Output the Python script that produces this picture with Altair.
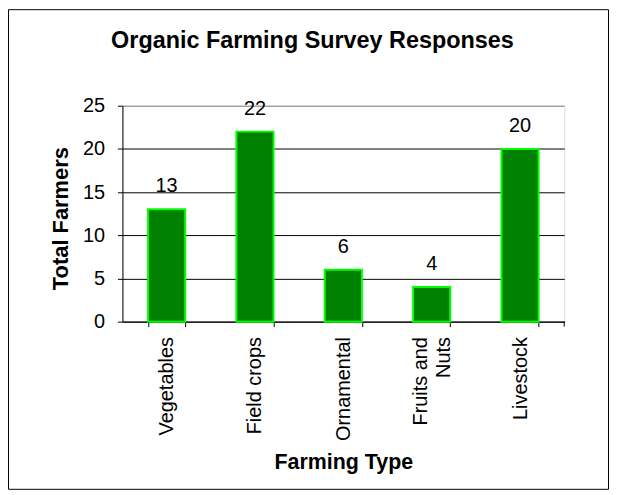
import altair as alt
import pandas as pd

categories = ["Vegetables", "Field crops", "Ornamental", "Fruits and|Nuts", "Livestock"]
values = [13, 22, 6, 4, 20]
y_ticks = [0, 5, 10, 15, 20, 25]

df = pd.DataFrame({"type": categories, "count": values})
FONT = "Liberation Sans"

x_enc = alt.X(
    "type:N",
    sort=categories,
    scale=alt.Scale(paddingInner=0.58, paddingOuter=0.29),
    axis=alt.Axis(
        title="Farming Type",
        labelAngle=-90,
        labelExpr="split(datum.label, '|')",
        labelFont=FONT,
        labelFontSize=20,
        labelLineHeight=23,
        labelColor="black",
        labelPadding=10,
        labelOffset=alt.condition("datum.value == 'Fruits and|Nuts'", alt.value(-11), alt.value(0)),
        tickBand="extent",
        tickSize=5,
        tickColor="black",
        domainColor="black",
        grid=False,
        titleFont=FONT,
        titleFontSize=21.5,
        titleFontWeight="bold",
        titleColor="black",
        titleBaseline="alphabetic",
        titleX=222,
        titleY=148,
    ),
)
y_enc = alt.Y(
    "count:Q",
    scale=alt.Scale(domain=[0, 25]),
    axis=alt.Axis(
        title="Total Farmers",
        values=y_ticks,
        labelFont=FONT,
        labelFontSize=20,
        labelColor="black",
        labelPadding=13,
        tickSize=5,
        tickColor="black",
        domainColor="black",
        grid=True,
        gridColor=alt.condition("datum.value == 25", alt.value("#808080"), alt.value("black")),
        titleFont=FONT,
        titleFontSize=22,
        titleFontWeight="bold",
        titleColor="black",
        titleBaseline="alphabetic",
        titleX=-55,
        titleY=113,
    ),
)

base = alt.Chart(df).encode(x=x_enc, y=y_enc)
bars = base.mark_bar(fill="#008000", stroke="#00FF00", strokeWidth=2)
labels = base.mark_text(dy=-17, baseline="alphabetic", fontSize=20, font=FONT, color="black").encode(
    text="count:Q"
)

one = pd.DataFrame({"k": [0]})
border = alt.Chart(one).mark_rect(fill="transparent", stroke="black", strokeWidth=1).encode(
    x=alt.value(-114.5), x2=alt.value(488.5), y=alt.value(-96.5), y2=alt.value(385.5)
)
end_tick = alt.Chart(one).mark_rule(color="black", strokeWidth=1).encode(
    x=alt.value(444), y=alt.value(217), y2=alt.value(222)
)

chart = (
    alt.layer(border, bars, labels, end_tick)
    .properties(
        width=444,
        height=217,
        autosize=alt.AutoSizeParams(type="none"),
        padding={"left": 115, "top": 97, "right": 46, "bottom": 170},
        title=alt.TitleParams(
            "Organic Farming Survey Responses",
            font=FONT,
            fontSize=23.5,
            fontWeight="bold",
            color="black",
            anchor="middle",
            baseline="alphabetic",
            offset=0,
            dx=-31,
            dy=62,
        ),
    )
    .configure_view(stroke="#808080", strokeWidth=1)
    .configure(background="white")
)

chart.save("out.html", embed_options={"renderer": "svg", "actions": False})
